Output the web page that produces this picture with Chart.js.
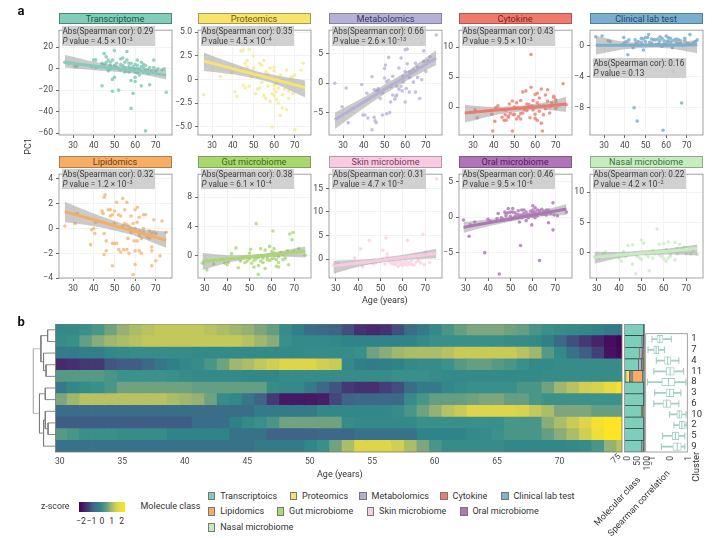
<!DOCTYPE html>
<html>
<head>
<meta charset="utf-8">
<title>Molecular profiles by age</title>
<script src="https://cdn.jsdelivr.net/npm/chart.js@4/dist/chart.umd.min.js"></script>
<style>
  html, body { margin: 0; padding: 0; background: #fff; }
  body { position: relative; width: 722px; height: 538px; overflow: hidden; font-family: Roboto, sans-serif; color: #333; }
  canvas { position: absolute; }
  .txt { position: absolute; white-space: nowrap; line-height: 1; }
  .strip { position: absolute; box-sizing: border-box; text-align: center; font-size: 9.1px; line-height: 10px; border: 0.7px solid #666; }
  .stat { position: absolute; width: 93.5px; height: 20px; background: rgba(200,200,200,0.86); font-size: 8.2px; line-height: 10px; color: #3c3c3c; white-space: nowrap; padding-left: 1px; box-sizing: border-box; }
  .stat sup { font-size: 5.5px; line-height: 0; vertical-align: 3px; }
  .swatch { position: absolute; width: 7.5px; height: 8.5px; border: 0.7px solid #777; box-sizing: border-box; }
</style>
</head>
<body>
<script>
// scatter values (age, PC1)
const transcriptomeAges = [26,28,31,32,39,40,41,41,44,44,45,45,46,46,47,47,48,48,49,49,49,50,50,50,51,52,52,53,53,54,54,55,55,56,56,57,57,58,58,58,59,59,59,60,60,60,60,61,61,61,62,62,63,63,64,64,65,65,66,67,67,67,69,69,70,71,73,75,74,46,48,51,53,55,56,57,58,60,61,62,63,64,65,66,68];
const transcriptomeValues = [6,5,2,2.5,2,8,8,1,5,-16,14,4,11,1,8,-2,6,0,8,-10,-21,-8,17,3,5,-20,0,9,-1,10,3,6,-3,16,8,-3,2,-11,-37,5,-23,-1,2,-8,-12,4,0,-4,3,8,0,-6,-16,6,4,-3,-58,3,-1,-15,-4,1,8,1,-2,0,-1,-22,0,6,3,1,4,1,-1,5,0,-3,0,-2,2,1,-1,-4,-2];
const proteomicsAges = [26,34,39.5,41,42,44,45,45,46,47,48,48,49,50,50,51,52,52,53,54,55,55,56,56,57,58,58,59,60,60,60,61,61,62,62,63,63,64,65,65,66,66,67,68,69,69,70,70,73,74,74,60,54,46,44,47,53,57,59,60,61,62,64,67];
const proteomicsValues = [-1.6,0.3,0.7,-1.3,-1.8,3,3.1,-0.6,1.7,2,-0.7,3.2,0.3,2.5,1.2,-1.5,0.3,-1,1.7,1.5,2,-1.7,0.8,-2,-0.7,-2.3,1.2,-5,-0.6,-1,0.9,-1.3,-2.1,-2.5,-0.1,-3.8,0.5,-3,-1,-0.3,1,-3.2,-2,0.2,0.3,-1.5,-5.3,0.5,1,1.7,-0.7,1.3,-0.3,-0.9,1.1,1.3,-0.9,0.6,-1.5,-1.7,-0.4,-0.9,-1.6,-1.2];
const metabolomicsAges = [26,29.5,31.5,32.5,39,39.5,40.5,41.5,42,44,44,45,45.5,46,45,46,47,48,49,49,50,50.5,50,51,51,52,52,52.5,53,54,54,55,55.5,56,57,57,58,58,58.5,59,60,60,60,60.5,61,61,62,62,63,64,65,65,66,67,68,68,69,69,70,71,72,75,47,53,56,59,62,64,66];
const metabolomicsValues = [0,-4,-0.8,-6.7,-0.2,-5.4,-5.4,-1.7,-5.9,1.1,-7.9,-5.8,-6.4,-6.7,-1.1,-1.2,-1.3,-2.6,-1.6,-5.4,2.5,3.1,0.9,0.3,-5.2,4.4,0.5,-5,-3.2,-2,1.2,-2.7,-2.2,-2,2.6,-1,4.3,-0.5,-1.3,1.2,2,5.7,-3.2,-0.9,5.8,3.3,1,-1.5,1.8,0.2,3.4,-1.5,1,-2.6,6.9,0.6,5.5,3.7,2,3.8,4.5,8.2,-0.9,-0.6,-0.5,0.2,1.9,2.2,2.7];
const cytokineAges = [31,32,39,39.5,40.5,41,42,44,45,45.5,46,46,47,47.5,48,49,49,49.5,50,51,51,52,52,53,53,54,54,55,55.5,55,56,57,57.5,58,58,58.5,59,60,60,60,61,61,61,62,62,63,63,63.5,64,65,65,66,67,67,68,69,69,70,70,71,72,73.5,75,50,45,47,53,56,59,60,62,64,66,68,70];
const cytokineValues = [-0.5,-1.8,-1.2,-4,-2.4,-0.1,0.2,-1.7,-2.2,-1.3,-0.5,-2.2,-1.5,0.5,-1.1,-4,1,-1.3,-1.2,0.7,-2,-0.2,-1.6,1.1,-2,2.5,-1,-0.5,2.7,-0.1,0.5,0.4,-1.8,8.8,3.3,0.2,-0.5,2.1,0,-1.9,0.7,-2.2,2.3,0.3,-0.7,3,-2.7,-4,0.2,-0.3,2,2.9,0,-1,0.7,1.6,1.8,0.8,-0.2,0.3,0.4,3.9,0.4,0,-0.5,-1.7,-1.1,-0.6,1.1,-1.2,1.5,-1.3,1,0.2,1.2];
const clinicalAges = [26,29,32,33,39,39.5,40,41,41.5,42,44,44.5,45,45.5,46,46.5,47,48,49,49,50,51,51.5,52,52.5,53,54,55,56,56.5,57,58,58,58.5,59,60,60,60.5,61,62,62,63,63.5,64,65,66,66,67,67.5,68,69,70,71,71.5,73,74,75,48,50,53,55,57,59,61,63,65,67,69];
const clinicalValues = [1.1,1.2,0.6,0.5,0.1,1,0.4,0.5,-1.2,0.7,-0.3,-8,0.7,0.3,-9.7,0.5,0,0.4,-0.6,0.8,0.5,1,1.4,0.4,0.1,0.8,0.7,0.1,0.8,0.3,0.6,-0.1,0.9,-10.9,0.6,1.2,0.2,0.5,0.6,0.4,0.9,-0.3,-3.3,0.7,0.4,0.2,0.7,0.6,-7.4,0,0.6,0.2,0.2,1.4,0.3,0.5,0.7,0.9,1,0.3,0.7,1.1,0.2,1,0.6,0.8,0.2,0.9];
const lipidomicsAges = [26,31,32,38.5,39,40,40.5,41,44,44.5,45,45,45,45.5,46,46,47,48,48,49,49,49,50,50,50,51,51,52,52,53,53,54,54,54,54.5,55,55,56,56,56.5,57,57,58,58,59,59,59.5,60,60,60,61,61,61,62,62,62,63,63,64,64,65,65,66,67,68,68,68,69,69,70,70,72,73,75,56,58,60,62,64,66,67,68];
const lipidomicsValues = [0.2,0.4,1.2,-1.3,-0.1,0,-0.4,0.5,1.4,1.2,2.5,-0.4,-2.1,2.7,-1,-1.8,1.5,1.5,1,-3,-1.2,1.1,1.4,-1.2,0.4,2.1,-1.2,1.1,-1.7,1,-1.9,4,2.4,0.2,-1.7,1.5,0.4,2.1,-1.7,-0.8,0.2,-2,1,0,-3.7,0.4,-1,1.5,-1.8,-2.9,1.7,0.5,-1,-1.8,0.9,-0.2,-0.8,-2,1.1,0,1.1,-0.5,-0.5,-0.8,-1.5,-1.8,-3,0.7,-0.3,-2.6,-0.4,-2.2,0.6,-0.3,0.3,-0.3,0,-0.6,-0.3,-0.7,-0.2,-0.4];
const gutAges = [29,31,34,39,40,40.5,41,42,44,45,46,48,49,50,50,50.5,51,52,52,53,53,54,54,55,55,56,57,57,58,59,59,60,60,60.5,61,61,62,62,63,63,64,65,66,67,67.5,68,69,69.5,70,72,75,52,54,56,58,59,60,61,62,63,65];
const gutValues = [-1,-1.9,-1.1,-1,-1.2,-0.9,10.8,0.3,1.1,-1.6,-0.7,-0.9,-0.7,0.4,-0.4,0.9,-1,-0.1,-1.5,4.4,-0.4,-2.5,-1.3,1,-0.7,-0.3,0.8,-1.7,-0.5,1.3,-0.6,0.6,0.2,3.4,1,-0.3,-0.5,-1.4,-0.9,-1.5,0.5,-0.5,-0.3,0.7,-1.2,3,2.2,3.2,0.6,1,0.1,-0.6,-0.2,-0.9,-0.2,0.2,-0.4,0.4,0.1,-0.1,0.2];
const skinAges = [29,31,38.5,41,42,45,47,50,51,52,52.5,53,54,55,56,57,58,58,59,60,61,62,62,63,64,65,66,67,68,69,69.5,70,72,75,46,48,56,60,62,51,53,55,57,59,61,63,64,66,67];
const skinValues = [-1.2,-1,0.3,2.2,-1.6,4,-1,-0.5,1.9,-1,4.5,1.1,-0.5,-0.9,-0.4,-0.7,-1.5,-0.6,-1.1,-0.7,-0.4,4,-0.6,-1,-0.3,-1.2,0.9,-0.4,-0.8,5.3,-1.1,1.5,-0.7,17,-0.8,-0.7,-1.1,-1.3,-1.2,0.1,0.4,-0.2,-1.1,-0.5,-1,-0.7,-1.1,-0.6,-0.2];
const oralAges = [29,31.5,32,34,38.5,40,41,44,44.5,45,46,47,47.5,48,49,49,50,50,51,51,52,53,53.5,54,54.5,55,55,56,57,57,58,59,59.5,60,60,60,61,61,61,62,63,63,64,65,66,66,67,67,68,69,69,69.5,71,75,48,50,52,54,55,56,57,58,59,60,61,62,63,64,65,67];
const oralValues = [-0.4,-2.7,-1.1,-0.7,-5,-0.3,-0.6,-0.2,0.5,-8,-0.1,-0.4,0.7,0.2,1.2,0.6,-0.3,0.1,0.7,1.2,0.1,0.4,0.9,-0.7,-4,1,0.3,0.5,-0.5,0.2,0.4,0.8,-1.1,1.6,0.6,0.1,1.3,0.3,-0.1,1,-6.1,0.6,1.1,0.8,1,0.3,-0.8,0.6,0.5,2,-1.8,0.3,0.2,0.7,0.5,0.7,0.6,0.3,-0.1,1,0.7,-0.1,0.2,1,0.7,0.2,0.9,0.4,0.4,1];
const nasalAges = [29,31,34,38,40,41,42,43,44,46,46,47.5,48,50,50,51,52,53,53.5,54,55,56,57,58,58,59,60,60,61,61,62,63,63,65,65,66,67,68,69,70,72,75,73,33,36,49,55,59,62,64,66,68];
const nasalValues = [-0.7,-1,0.2,-0.4,-0.9,-1.4,0.2,-0.7,1.2,1.3,-1.9,-3.5,-0.6,-1.1,2.1,1.6,-0.3,-0.7,-3,-0.1,-0.9,-0.2,3.9,1.4,-0.4,0,-1,1.5,0.5,-1.4,1.8,-0.3,-0.6,1.7,-1.2,0.7,1.4,0.4,0.9,-0.2,-0.2,-0.3,0.3,-0.1,-0.5,-0.8,0.3,-0.6,-0.9,0.2,-0.2,0.6];

// regression fits and confidence limits
const fitAgesWide = [26,40,52,62,75];
const fitAgesNarrow = [29,40,52,62,75];
const transcriptomeFit = [6,2.5,0,-2,-6];
const transcriptomeUpper = [13,6.5,3,0.5,-1];
const transcriptomeLower = [1,-1.5,-3,-5,-10];
const proteomicsFit = [1.95,1.15,0.46,-0.1,-0.85];
const proteomicsUpper = [2.85,1.7,0.85,0.4,-0.1];
const proteomicsLower = [0.9,0.55,0.05,-0.6,-1.9];
const metabolomicsFit = [-6.2,-3.2,-0.6,1.5,4.3];
const metabolomicsUpper = [-5,-2.4,0.2,2.3,5.6];
const metabolomicsLower = [-7.8,-4.2,-1.4,0.7,3.1];
const cytokineFit = [-1,-0.55,-0.2,0.05,0.5];
const cytokineUpper = [0.4,0,0.2,0.6,1.7];
const cytokineLower = [-2.6,-1.4,-0.8,-0.4,-0.8];
const clinicalFit = [0,0,0,0.03,0.07];
const clinicalUpper = [1.2,0.45,0.3,0.35,0.7];
const clinicalLower = [-1.2,-0.5,-0.3,-0.4,-1];
const lipidomicsFit = [1.35,0.7,0.13,-0.34,-0.95];
const lipidomicsUpper = [2.15,1.2,0.5,0,-0.25];
const lipidomicsLower = [0.5,0.2,-0.25,-0.7,-1.55];
const gutFit = [-0.75,-0.4,-0.05,0.25,0.65];
const gutUpper = [0.4,0.1,0.2,0.55,1.3];
const gutLower = [-1.9,-0.95,-0.35,-0.1,-0.2];
const skinFit = [-1.45,-0.8,-0.1,0.5,1.2];
const skinUpper = [-0.3,-0.1,0.4,1.1,2.2];
const skinLower = [-3.1,-1.6,-0.6,-0.1,0.2];
const oralFit = [-1.45,-0.8,-0.15,0.4,1.15];
const oralUpper = [-0.7,-0.3,0.2,0.75,1.85];
const oralLower = [-2.25,-1.3,-0.5,0.05,0.3];
const nasalFit = [-0.75,-0.4,0,0.25,0.7];
const nasalUpper = [0.15,0.1,0.4,0.7,1.35];
const nasalLower = [-1.85,-0.9,-0.4,-0.3,-0.45];

// y ticks of each small panel
const xTickAges = [30,40,50,60,70];
const transcriptomeTicks = [20,0,-20,-40,-60];
const proteomicsTicks = [5,2.5,0,-2.5,-5];
const metabolomicsTicks = [5,0,-5];
const cytokineTicks = [10,5,0];
const clinicalTicks = [0,-4,-8];
const lipidomicsTicks = [4,2,0,-2,-4];
const gutTicks = [8,4,0];
const skinTicks = [15,10,5,0];
const oralTicks = [5,0,-5];
const nasalTicks = [10,5,0];

// heat map: z-score per cluster for ages 30 to 75, one value per year
const heatAges = [30,31,32,33,34,35,36,37,38,39,40,41,42,43,44,45,46,47,48,49,50,51,52,53,54,55,56,57,58,59,60,61,62,63,64,65,66,67,68,69,70,71,72,73,74,75];
const clusterLabels = ['1','7','4','11','8','3','6','10','2','5','9'];
const heatTicks = [30,35,40,45,50,55,60,65,70];
const cluster1 = [-.1,-.1,.1,.3,.6,.9,1.1,1.2,1.3,1.3,1.3,1.3,1.2,1.1,1,.9,.7,.5,0,-.4,-.8,-.9,-1,-1.3,-1.7,-1.8,-1.7,-1.3,-.8,-.5,-.1,.3,.5,.7,.7,.7,.6,.5,.3,.1,0,-.1,-.2,-.3,-.5,-.6];
const cluster7 = [0,.1,.5,.8,1,1.1,1.2,1.3,1.3,1.3,1.3,1.3,1.3,1.3,1.3,1.2,1,.8,.1,-.1,-.1,-.1,-.2,-.3,-.3,-.3,-.3,-.3,-.3,-.1,.1,.1,.1,.1,.1,.1,0,0,-.1,-.4,-.9,-1.3,-1.6,-1.9,-2.3,-2.5];
const cluster4 = [-.5,-.5,-.4,-.4,-.2,-.1,0,0,0,0,0,-.1,-.1,-.1,-.1,-.1,-.1,-.1,-.1,-.1,0,0,0,0,.1,.6,.8,1,1.1,1.1,1.1,1.2,1.4,1.4,1.4,1.4,1.4,1.2,1,.4,-.1,-.7,-1.1,-1.5,-2.2,-2.4];
const cluster11 = [-1.8,-1.7,-1.6,-1.6,-1.2,-1.1,-1.1,-.9,-.6,-.4,-.2,0,.3,.6,1,1.1,1.3,1.5,1.7,1.7,1.7,1.5,1.4,-.1,-.4,-.5,-.4,-.3,-.1,0,0,.2,.4,.5,.5,.4,.3,.1,-.1,-.1,0,0,0,0,0,0];
const cluster8 = [.4,.4,.4,.4,.3,.2,.2,.2,.2,.1,0,-.1,-.1,-.1,-.1,-.2,-.2,-.2,0,0,0,0,0,0,0,0,0,.1,.1,.1,0,-.1,-.1,-.1,-.1,-.1,-.1,-.1,-.1,0,0,0,0,0,0,0];
const cluster3 = [-.5,-.2,0,.1,.3,.6,.6,.6,.6,.6,.6,.5,.5,.5,.5,.5,.5,0,-.1,-.1,-.5,-.9,-1.2,-1.6,-1.7,-1.7,-1.5,-1.3,-.8,-.5,-.5,-.2,0,.1,.1,.1,.1,.3,.3,.6,1,1.2,1.5,1.6,1.9,2.2];
const cluster6 = [.7,1,1.2,1.2,1.2,1.2,1.2,1.2,1.2,1.1,1,.9,.6,0,-.2,-.6,-1,-1.6,-2.1,-2.1,-2.1,-2,-1.4,-1,-.9,-.9,-.9,-.9,0,.3,.5,.5,.5,.6,.7,.7,.5,.5,.3,.2,.2,.2,.2,.2,.2,.2];
const cluster10 = [-.8,-.8,-.8,-.8,-.8,-.8,-.8,-.8,-.8,-.8,-.8,-.8,-.8,-.8,-.8,-.8,-.5,-.5,-.5,-.5,-.5,-.2,-.2,-.2,-.2,-.2,-.2,0,.3,.6,.9,1.2,1.4,1.7,1.7,1.7,1.7,1.6,1.3,1.1,.7,.7,.7,.5,.5,.5];
const cluster2 = [-1.1,-1.1,-1.1,-1.1,-1.1,-1.1,-1.1,-1.1,-1.1,-1.1,-1.1,-.8,-.8,-.8,-.4,-.1,.1,.3,.6,.6,.6,.6,.6,0,-.1,-.1,-.1,-.1,-.1,.1,.1,.1,.1,.1,.1,.1,.3,.3,.3,.8,1.1,1.4,1.7,2.1,2.3,2.3];
const cluster5 = [.4,.3,.1,.1,.1,0,0,0,0,-.3,-.3,-.3,-.3,-.3,-.7,-.7,-.7,-1,-1,-1,-1,-.9,-.9,-.9,-.7,-.7,-.7,-.7,-.7,-.3,-.3,-.3,-.3,-.1,0,.2,.3,.3,.3,.5,.8,1.1,1.5,2,2.3,2.3];
const cluster9 = [-.7,-.7,-.7,-.7,-.7,-.7,-.7,-.7,-.7,-.7,-.7,-.7,-.7,-.7,-.7,-.7,-.5,-.5,-.5,-.5,-.2,.1,.6,1.1,1.7,1.7,1.7,1.5,1.1,.7,.3,0,0,0,0,0,-.2,-.2,-.2,-.2,-.2,-.1,0,.3,.9,1.2];

// dendrogram merges: [child a, child b, height]; leaves are rows 1-11, new nodes from 12
const dendroMerges = [[1,2,8.2],[4,5,9.8],[3,13,12.2],[12,14,14.8],[6,7,10.5],[9,10,7.8],[8,17,10.5],[18,11,12.2],[16,19,16.2],[15,20,22.2]];

// molecular class share per cluster, in cluster order
const shareTranscriptome = [96,88,74,70,8,96,96,84,95,96,87];
const shareProteomics = [0.5,0.5,1,1,18,0.5,0.5,1,0.5,0.5,1];
const shareMetabolomics = [1,7,13,14,6,1,1,5,1.5,1,6];
const shareCytokine = [0.5,0.5,1,1,6,0.5,0.5,1,0.5,0.5,0.5];
const shareClinical = [0.5,1,2,3,4,0.5,0.5,1,0.5,0.5,1];
const shareLipidomics = [0.5,1,4,6,48,0.5,0.5,2,0.5,0.5,1.5];
const shareGut = [0.2,0.5,1,1,3,0.2,0.2,1.5,0.5,0.2,0.5];
const shareSkin = [0.1,0.2,1,1,2,0.1,0.1,1,0.2,0.1,0.5];
const shareOral = [0.2,0.5,2,2,3,0.2,0.2,2,0.5,0.2,1];
const shareNasal = [0.1,0.3,1,1,2,0.1,0.1,1.5,0.3,0.1,0.5];

// Spearman correlation box plots, in cluster order
const corrMin = [-.83,-1.05,-.59,-.73,-1.08,-.68,-.73,.15,.39,-.24,-.31];
const corrQ1 = [-.55,-.73,-.13,-.04,-.29,-.05,-.22,.55,.68,.29,.33];
const corrMedian = [-.4,-.6,.04,.18,.09,.15,-.02,.68,.83,.48,.57];
const corrQ3 = [-.22,-.46,.22,.4,.44,.37,.22,.83,.97,.66,.79];
const corrMax = [.24,-.13,.66,.92,1.05,.77,.66,1.06,1.06,.99,.99];

const zColorStops = [[-2.5,'#440357'],[-1.8,'#46296e'],[-1,'#3f6488'],[-.3,'#2f8489'],[.2,'#3c928a'],[.7,'#7ea67e'],[1.3,'#c3c85c'],[1.8,'#e6d845'],[2.3,'#fde425']];
const legendRows = [
  [['Transcriptoics',211.6,'#7fcdbb'],['Proteomics',293.5,'#f7e36c'],['Metabolomics',363,'#b5b1d6'],['Cytokine',444,'#ee7a70'],['Clinical lab test',504.8,'#7fb0d0']],
  [['Lipidomics',211.6,'#f5ad64'],['Gut microbiome',280.5,'#abd870'],['Skin microbiome',370.5,'#f8cfe2'],['Oral microbiome',463.8,'#ad78b4']],
  [['Nasal microbiome',211.6,'#c5e8bf']]
];

const panels = [
  { name:'Transcriptome', color:'#82cdb9', dot:'#88cbb9', ink:'#0f5a4d', border:'#4f8576', left:58.5, top:24, h:110.5, xMin:23.2, xMax:77.8, yMin:-61.8, yMax:35.9, ticks:transcriptomeTicks, ages:transcriptomeAges, values:transcriptomeValues, fitAges:fitAgesWide, fit:transcriptomeFit, upper:transcriptomeUpper, lower:transcriptomeLower, r:'0.29', p:'4.5 × 10<sup>−3</sup>' },
  { name:'Proteomics', color:'#f8e36c', dot:'#f6eb9c', ink:'#6e6010', border:'#a79a55', left:197.5, top:24, h:110.5, xMin:23.2, xMax:77.8, yMin:-5.85, yMax:5.2, ticks:proteomicsTicks, ages:proteomicsAges, values:proteomicsValues, fitAges:fitAgesWide, fit:proteomicsFit, upper:proteomicsUpper, lower:proteomicsLower, r:'0.35', p:'4.5 × 10<sup>−4</sup>' },
  { name:'Metabolomics', color:'#b5b1d6', dot:'#bdb9d8', ink:'#3a3868', border:'#8783a6', left:329, top:24, h:110.5, xMin:23.2, xMax:77.8, yMin:-8.8, yMax:9.03, ticks:metabolomicsTicks, ages:metabolomicsAges, values:metabolomicsValues, fitAges:fitAgesWide, fit:metabolomicsFit, upper:metabolomicsUpper, lower:metabolomicsLower, r:'0.66', p:'2.6 × 10<sup>−13</sup>' },
  { name:'Cytokine', color:'#f0796e', dot:'#ee8a80', ink:'#84201a', border:'#a65a52', left:458.5, top:24, h:110.5, xMin:23.2, xMax:77.8, yMin:-4.68, yMax:12.86, ticks:cytokineTicks, ages:cytokineAges, values:cytokineValues, fitAges:fitAgesWide, fit:cytokineFit, upper:cytokineUpper, lower:cytokineLower, r:'0.43', p:'9.5 × 10<sup>−3</sup>' },
  { name:'Clinical lab test', color:'#7aaed0', dot:'#84b1cf', ink:'#1c4a6b', border:'#55809c', left:589.5, top:24, h:110.5, xMin:23.2, xMax:77.8, yMin:-11.5, yMax:1.95, ticks:clinicalTicks, ages:clinicalAges, values:clinicalValues, fitAges:fitAgesWide, fit:clinicalFit, upper:clinicalUpper, lower:clinicalLower, r:'0.16', p:'0.13', statTop:58 },
  { name:'Lipidomics', color:'#f8ad64', dot:'#f4bc82', ink:'#6f3e10', border:'#a98050', left:58.5, top:167.5, h:110, xMin:23.2, xMax:77.8, yMin:-3.98, yMax:4.36, ticks:lipidomicsTicks, ages:lipidomicsAges, values:lipidomicsValues, fitAges:fitAgesWide, fit:lipidomicsFit, upper:lipidomicsUpper, lower:lipidomicsLower, r:'0.32', p:'1.2 × 10<sup>−3</sup>' },
  { name:'Gut microbiome', color:'#a9d86e', dot:'#b2db81', ink:'#3b6a1a', border:'#7fa055', left:197.5, top:167.5, h:110, xMin:27, xMax:77.5, yMin:-3, yMax:11.14, ticks:gutTicks, ages:gutAges, values:gutValues, fitAges:fitAgesNarrow, fit:gutFit, upper:gutUpper, lower:gutLower, r:'0.38', p:'6.1 × 10<sup>−4</sup>' },
  { name:'Skin microbiome', color:'#f8cbe0', dot:'#f9d5e6', ink:'#80355c', border:'#b79aa9', left:329, top:167.5, h:110, xMin:27, xMax:77.5, yMin:-3.96, yMax:18, ticks:skinTicks, ages:skinAges, values:skinValues, fitAges:fitAgesNarrow, fit:skinFit, upper:skinUpper, lower:skinLower, r:'0.31', p:'4.7 × 10<sup>−3</sup>' },
  { name:'Oral microbiome', color:'#b074b8', dot:'#b27fb9', ink:'#551a60', border:'#7f5a85', left:458.5, top:167.5, h:110, xMin:27, xMax:77.5, yMin:-8.57, yMax:6.04, ticks:oralTicks, ages:oralAges, values:oralValues, fitAges:fitAgesNarrow, fit:oralFit, upper:oralUpper, lower:oralLower, r:'0.46', p:'9.5 × 10<sup>−6</sup>' },
  { name:'Nasal microbiome', color:'#c6ecc0', dot:'#d0eccb', ink:'#3b6f3f', border:'#8fa98c', left:589.5, top:167.5, h:110, xMin:27, xMax:77.5, yMin:-4.2, yMax:13, ticks:nasalTicks, ages:nasalAges, values:nasalValues, fitAges:fitAgesNarrow, fit:nasalFit, upper:nasalUpper, lower:nasalLower, r:'0.22', p:'4.2 × 10<sup>−2</sup>' }
];
const PANEL_W = 113;

Chart.defaults.font.family = 'Roboto, sans-serif';
Chart.defaults.font.size = 8.6;
Chart.defaults.color = '#4a4a4a';
Chart.defaults.animation = false;
Chart.defaults.responsive = false;
Chart.defaults.devicePixelRatio = 1;
Chart.defaults.plugins.legend.display = false;
Chart.defaults.plugins.tooltip.enabled = false;

const addCanvas = (left, top, width, height) => {
    const canvas = document.createElement('canvas');
    canvas.width = width;
    canvas.height = height;
    canvas.style.left = left + 'px';
    canvas.style.top = top + 'px';
    canvas.style.width = width + 'px';
    canvas.style.height = height + 'px';
    document.body.appendChild(canvas);
    return canvas;
};

const addText = (text, left, top, css) => {
    const el = document.createElement('div');
    el.className = 'txt';
    el.innerHTML = text;
    el.style.left = left + 'px';
    el.style.top = top + 'px';
    Object.assign(el.style, css || {});
    document.body.appendChild(el);
    return el;
};

// thin outline round the plot area
const frame = (color) => ({
    id: 'frame',
    afterDraw(chart) {
        const { ctx, chartArea: a } = chart;
        ctx.save();
        ctx.strokeStyle = color;
        ctx.lineWidth = 0.8;
        ctx.strokeRect(a.left, a.top, a.right - a.left, a.bottom - a.top);
        ctx.restore();
    }
});

const dash = (v) => String(v).replace('-', '−');

const xy = (xs, ys) => xs.map((x, i) => ({ x, y: ys[i] }));

// keep rotated labels from shrinking the plot area
const fixBottom = (height) => (s) => {
    s.height = height;
    s.paddingLeft = 0;
    s.paddingRight = 0;
};

panels.forEach((p) => {
    const canvas = addCanvas(p.left - 32, p.top - 2, PANEL_W + 36, Math.ceil(p.h) + 24);
    const decimals = p.ticks.some((t) => t % 1 !== 0);
    new Chart(canvas, {
        type: 'scatter',
        data: {
            datasets: [
                { type: 'line', order: 0, data: xy(p.fitAges, p.fit), borderColor: p.color, borderWidth: 3, pointRadius: 0, fill: false },
                { type: 'line', order: 1, data: xy(p.fitAges, p.upper), borderWidth: 0, pointRadius: 0, fill: '+1', backgroundColor: 'rgba(150,150,150,0.5)', tension: 0.3 },
                { type: 'line', order: 1, data: xy(p.fitAges, p.lower), borderWidth: 0, pointRadius: 0, fill: false, tension: 0.3 },
                { order: 2, data: xy(p.ages, p.values), backgroundColor: p.dot + 'e0', borderWidth: 0, pointRadius: 1.8, pointStyle: 'circle' }
            ]
        },
        options: {
            layout: { padding: { top: 2, right: 4, left: 0, bottom: 0 } },
            scales: {
                x: {
                    type: 'linear', min: p.xMin, max: p.xMax,
                    afterBuildTicks: (s) => { s.ticks = xTickAges.map((value) => ({ value })); },
                    afterFit: fixBottom(22),
                    grid: { color: '#f3f3f3', tickColor: '#666', tickLength: 3 },
                    border: { display: false },
                    ticks: { maxRotation: 0, padding: 3, callback: (v) => String(v) }
                },
                y: {
                    type: 'linear', min: p.yMin, max: p.yMax,
                    afterBuildTicks: (s) => { s.ticks = p.ticks.map((value) => ({ value })); },
                    afterFit: (s) => { s.width = 32; },
                    grid: { color: '#f3f3f3', tickColor: '#666', tickLength: 3 },
                    border: { display: false },
                    ticks: { padding: 3, callback: (v) => dash(decimals && v !== 0 ? v.toFixed(1) : v) }
                }
            }
        },
        plugins: [frame('#8c8c8c')]
    });

    const strip = document.createElement('div');
    strip.className = 'strip';
    strip.textContent = p.name;
    strip.style.left = p.left + 'px';
    strip.style.top = (p.top - 11.5) + 'px';
    strip.style.width = PANEL_W + 'px';
    strip.style.height = '11.5px';
    strip.style.background = p.color;
    strip.style.color = p.ink;
    strip.style.borderColor = p.border;
    document.body.appendChild(strip);

    const stat = document.createElement('div');
    stat.className = 'stat';
    stat.innerHTML = 'Abs(Spearman cor): ' + p.r + '<br><i>P</i> value = ' + p.p;
    stat.style.left = (p.left + 3) + 'px';
    stat.style.top = (p.statTop || (p.top + 1.7)) + 'px';
    document.body.appendChild(stat);
});

// viridis-like colour for a z-score
const zColor = (z) => {
    const hex = (c) => [1, 3, 5].map((i) => parseInt(c.slice(i, i + 2), 16));
    const stops = zColorStops;
    if (z <= stops[0][0]) return stops[0][1];
    for (let i = 1; i < stops.length; i++) {
        if (z <= stops[i][0]) {
            const t = (z - stops[i - 1][0]) / (stops[i][0] - stops[i - 1][0]);
            const a = hex(stops[i - 1][1]);
            const b = hex(stops[i][1]);
            return 'rgb(' + a.map((v, k) => Math.round(v + (b[k] - v) * t)).join(',') + ')';
        }
    }
    return stops[stops.length - 1][1];
};

// heat map: one floating bar per year and cluster
const heatRows = [cluster1, cluster7, cluster4, cluster11, cluster8, cluster3, cluster6, cluster10, cluster2, cluster5, cluster9];
new Chart(addCanvas(40, 323.5, 600, 148), {
    type: 'bar',
    data: {
        labels: clusterLabels,
        datasets: heatAges.map((age, col) => ({
            data: clusterLabels.map(() => [age - 0.5, age + 0.56]),
            backgroundColor: heatRows.map((row) => zColor(row[col])),
            borderWidth: 0,
            barPercentage: 1.08,
            categoryPercentage: 1
        }))
    },
    options: {
        indexAxis: 'y',
        layout: { padding: { left: 15.5, right: 18, top: 0, bottom: 0 } },
        datasets: { bar: { grouped: false } },
        scales: {
            x: {
                type: 'linear', min: 29.65, max: 75,
                afterBuildTicks: (s) => { s.ticks = heatTicks.map((value) => ({ value })); },
                afterFit: fixBottom(20),
                grid: { display: false, tickLength: 2 },
                border: { display: false },
                ticks: { maxRotation: 0, padding: 3, callback: (v) => String(v) }
            },
            y: { type: 'category', display: false }
        }
    },
    plugins: [frame('#7a7a66')]
});

// dendrogram drawn as step lines on a height / row scale
const dendroNodes = {};
for (let row = 1; row <= 11; row++) dendroNodes[row] = { y: row, h: 0 };
const dendroSets = dendroMerges.map(([a, b, h], i) => {
    const na = dendroNodes[a];
    const nb = dendroNodes[b];
    dendroNodes[12 + i] = { y: (na.y + nb.y) / 2, h };
    return {
        data: [{ x: na.h, y: na.y }, { x: h, y: na.y }, { x: h, y: nb.y }, { x: nb.h, y: nb.y }],
        showLine: true,
        pointRadius: 0,
        borderWidth: 0.9,
        borderColor: i === dendroMerges.length - 1 ? '#b8b8b8' : '#7c7c7c'
    };
});
new Chart(addCanvas(30, 323.5, 26, 128), {
    type: 'scatter',
    data: { datasets: dendroSets },
    options: {
        layout: { padding: 0 },
        scales: {
            x: { type: 'linear', display: false, reverse: true, min: 0, max: 25.5 },
            y: { type: 'linear', display: false, reverse: true, min: 0.5, max: 11.5 }
        }
    }
});

// stacked molecular class bars
const shareSeries = [
    [shareTranscriptome, '#7fcdbb'], [shareProteomics, '#f7e36c'], [shareMetabolomics, '#b5b1d6'], [shareCytokine, '#ee7a70'], [shareClinical, '#7fb0d0'],
    [shareLipidomics, '#f9ad64'], [shareGut, '#abd870'], [shareSkin, '#f8cfe2'], [shareOral, '#ad78b4'], [shareNasal, '#c5e8bf']
];
new Chart(addCanvas(618, 323.5, 32, 150), {
    type: 'bar',
    data: {
        labels: clusterLabels,
        datasets: shareSeries.map(([data, color]) => ({
            data, backgroundColor: color, borderColor: '#23413b', borderWidth: 0.7, barPercentage: 1, categoryPercentage: 1
        }))
    },
    options: {
        indexAxis: 'y',
        layout: { padding: { left: 6.5, right: 5.5, top: 0, bottom: 0 } },
        scales: {
            x: {
                stacked: true, type: 'linear', min: 0, max: 100,
                afterBuildTicks: (s) => { s.ticks = [0, 50, 100].map((value) => ({ value })); },
                afterFit: fixBottom(22),
                grid: { display: false, tickLength: 2 },
                border: { display: false },
                ticks: { minRotation: 90, maxRotation: 90, autoSkip: false, padding: 2, labelOffset: 3.5, callback: (v) => String(v) }
            },
            y: { stacked: true, display: false }
        }
    },
    plugins: [frame('#8c8c8c')]
});

// Spearman box plots built from floating bars
const boxInk = '#a2d0c4';
const floating = (lo, hi) => lo.map((v, i) => [v, hi[i]]);
const tick = (vals) => vals.map((v) => [v - 0.012, v + 0.012]);
new Chart(addCanvas(641, 323.5, 66, 150), {
    type: 'bar',
    data: {
        labels: clusterLabels,
        datasets: [
            { order: 4, data: floating(corrMin, corrMax), backgroundColor: boxInk, barThickness: 1 },
            { order: 3, data: tick(corrMin), backgroundColor: boxInk, barThickness: 6 },
            { order: 3, data: tick(corrMax), backgroundColor: boxInk, barThickness: 6 },
            { order: 2, data: floating(corrQ1, corrQ3), backgroundColor: '#ffffff', borderColor: boxInk, borderWidth: 0.9, borderSkipped: false, barThickness: 7.5 },
            { order: 1, data: tick(corrMedian), backgroundColor: boxInk, barThickness: 7.5 }
        ]
    },
    options: {
        indexAxis: 'y',
        layout: { padding: { left: 4.7, right: 0, top: 0, bottom: 0 } },
        datasets: { bar: { grouped: false } },
        scales: {
            x: {
                type: 'linear', min: -1.18, max: 1.13,
                afterBuildTicks: (s) => { s.ticks = [-1, 0, 1].map((value) => ({ value })); },
                afterFit: fixBottom(22),
                grid: { display: false, tickLength: 2 },
                border: { display: false },
                ticks: { minRotation: 90, maxRotation: 90, autoSkip: false, padding: 2, labelOffset: 3.5, callback: (v) => dash(v) }
            },
            y: {
                position: 'right',
                afterFit: (s) => { s.width = 19.7; },
                grid: { display: false, drawTicks: false },
                border: { display: false },
                ticks: { autoSkip: false, padding: 4, font: { size: 9.5 }, color: '#333' }
            }
        }
    },
    plugins: [frame('#8c8c8c')]
});

// plain text labels
addText('a', 17.5, 4, { fontSize: '13px', fontWeight: '700', color: '#111' });
addText('b', 17.5, 315, { fontSize: '13px', fontWeight: '700', color: '#111' });
addText('PC1', 20, 142, { fontSize: '9px', transform: 'rotate(-90deg)', transformOrigin: '50% 50%' });
addText('Age (years)', 362, 296, { fontSize: '9px' });
addText('Age (years)', 317, 470, { fontSize: '9px' });
addText('75', 611, 454, { fontSize: '8.6px', color: '#4a4a4a', transform: 'rotate(-45deg)' });
addText('Molecular class', 586, 497, { fontSize: '9px', transform: 'rotate(-47deg)' });
addText('Spearman correlation', 596, 499, { fontSize: '9px', transform: 'rotate(-47deg)' });
addText('Cluster', 681, 462, { fontSize: '9.5px', transform: 'rotate(-90deg)' });

addText('z-score', 41, 502, { fontSize: '8.8px' });
const colorBar = addText('', 79, 501.7, { width: '45.5px', height: '10.7px' });
colorBar.style.background = 'linear-gradient(to right,' + [-2.5,-2,-1.5,-1,-.5,0,.5,1,1.5,2,2.5].map(zColor).join(',') + ')';
[['−2',81],['−1',91.5],['0',101.8],['1',111.7],['2',121.7]].forEach(([t, x]) => {
    addText(t, x - 6, 516.5, { fontSize: '8.6px', width: '12px', textAlign: 'center' });
});
addText('Molecule class', 140.5, 502, { fontSize: '9px' });
const legendY = [496, 511.6, 527.3];
legendRows.forEach((row, r) => {
    row.forEach(([label, x, color]) => {
        const sw = document.createElement('div');
        sw.className = 'swatch';
        sw.style.left = (x - 3.75) + 'px';
        sw.style.top = (legendY[r] - 4.25) + 'px';
        sw.style.background = color;
        document.body.appendChild(sw);
        addText(label, x + 8.6, legendY[r] - 4.5, { fontSize: '9px' });
    });
});
</script>
</body>
</html>
